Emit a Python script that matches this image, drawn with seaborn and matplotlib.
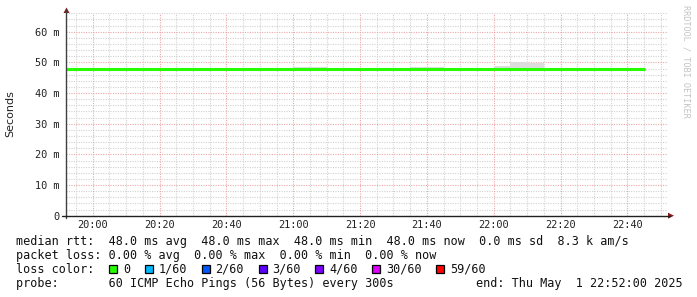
import matplotlib
matplotlib.use("Agg")
import matplotlib.pyplot as plt
import matplotlib.dates as mdates
from matplotlib.patches import Rectangle
import numpy as np
import pandas as pd
import seaborn as sns

# ---------------- data ----------------
times = pd.date_range("2025-05-01 19:50", "2025-05-01 22:45", freq="5min")
median_ms = [48.0, 48.0, 48.0, 48.0, 48.0, 48.0, 48.0, 48.0, 48.0, 48.0,
             48.0, 48.0, 48.0, 48.0, 48.0, 48.0, 48.0, 48.0, 48.0, 48.0,
             48.0, 48.0, 48.0, 48.0, 48.0, 48.0, 48.0, 48.0, 48.0, 48.0,
             48.0, 48.0, 48.0, 48.0, 48.0, 48.0]
smoke_top_ms = [48.0, 48.0, 48.0, 48.0, 48.0, 48.0, 48.0, 48.0, 48.0, 48.0,
                48.0, 48.0, 48.0, 48.0, 48.0, 48.5, 48.5, 48.0, 48.0, 48.0,
                48.0, 48.0, 48.5, 48.5, 48.0, 48.0, 48.0, 48.9, 50.2, 49.8,
                48.0, 48.0, 48.0, 48.0, 48.0, 48.0]
ytick_vals = [0, 10, 20, 30, 40, 50, 60]
ytick_labels = ["0", "10 m", "20 m", "30 m", "40 m", "50 m", "60 m"]
xtick_labels = ["20:00", "20:20", "20:40", "21:00", "21:20", "21:40", "22:00", "22:20", "22:40"]
loss_labels = ["0", "1/60", "2/60", "3/60", "4/60", "30/60", "59/60"]
loss_colors = ["#26ff00", "#00b8ff", "#0059ff", "#5e00ff", "#7e00ff", "#dd00ff", "#ff0000"]
legend_lines = [
    "median rtt:  48.0 ms avg  48.0 ms max  48.0 ms min  48.0 ms now  0.0 ms sd  8.3 k am/s",
    "packet loss: 0.00 % avg  0.00 % max  0.00 % min  0.00 % now",
]
probe_text = "probe:       60 ICMP Echo Pings (56 Bytes) every 300s"
end_text = "end: Thu May  1 22:52:00 2025"

df = pd.DataFrame({"time": times, "median": median_ms, "smoke": smoke_top_ms})

# ---------------- figure ----------------
sns.set_theme(style="white")
plt.rcParams["font.family"] = ["DejaVu Sans Mono", "DejaVu Sans"]

W, H = 697, 297
fig = plt.figure(figsize=(W / 100, H / 100), dpi=100)
fig.patch.set_facecolor("white")

x0, x1 = 66, 667.5
y_zero, y_top = 215.7, 13
ax = fig.add_axes([x0 / W, (H - y_zero) / H, (x1 - x0) / W, (y_zero - y_top) / H])
ax.set_facecolor("white")

t_start = pd.Timestamp("2025-05-01 19:52")
t_end = pd.Timestamp("2025-05-01 22:52")
ax.set_xlim(t_start, t_end)
ax.set_ylim(0, 66.1)

# grid
minor_c = "#d2d2d2"
major_c = "#eda8a8"
dots = (0, (1, 1.2))
for m in np.arange(0, 66.1, 2):
    if m % 10 == 0:
        continue
    ax.axhline(m, color=minor_c, lw=0.8, ls=dots, zorder=0)
for m in range(10, 61, 10):
    ax.axhline(m, color=major_c, lw=0.8, ls=dots, zorder=0.5)
vt = pd.date_range("2025-05-01 19:55", "2025-05-01 22:50", freq="5min")
for t in vt:
    if t.minute % 20 == 0:
        ax.axvline(t, color=major_c, lw=0.8, ls=dots, zorder=0.5)
    else:
        ax.axvline(t, color=minor_c, lw=0.8, ls=dots, zorder=0)

# smoke
ax.fill_between(df["time"], df["median"], df["smoke"], step="pre",
                color="#dcdcdc", lw=0, zorder=1)
# median line
sns.lineplot(data=df, x="time", y="median", ax=ax, color="#26ff00",
             lw=2.2, drawstyle="steps-pre", zorder=2, legend=False)

ax.set_xlabel("")
ax.set_ylabel("")

# ticks
ax.set_yticks(ytick_vals)
ax.set_yticklabels(ytick_labels)
xt = [pd.Timestamp("2025-05-01 " + s) for s in xtick_labels]
ax.set_xticks(xt)
ax.set_xticklabels(xtick_labels)
ax.tick_params(axis="both", length=0, labelsize=7.4, colors="#000000")
ax.tick_params(axis="y", pad=5)
ax.tick_params(axis="x", pad=3)
for lab in ax.get_xticklabels() + ax.get_yticklabels():
    lab.set_color("#222222")

for s in ["top", "right", "left", "bottom"]:
    ax.spines[s].set_visible(False)

# axis lines with arrows (figure pixel coords)
def px(x, y):
    return (x / W, (H - y) / H)

fig.add_artist(plt.Line2D([px(66, 0)[0], px(66, 0)[0]], [px(0, 218)[1], px(0, 10)[1]],
                          color="#404040", lw=1.0))
fig.add_artist(plt.Line2D([px(62, 0)[0], px(670, 0)[0]], [px(0, 215.7)[1], px(0, 215.7)[1]],
                          color="#202020", lw=1.0))
fig.add_artist(plt.Polygon([px(63.5, 13), px(69.5, 13), px(66.5, 7.5)], closed=True,
                           color="#8b1a1a", lw=0))
fig.add_artist(plt.Polygon([px(668, 212.7), px(668, 218.7), px(674, 215.7)], closed=True,
                           color="#8b1a1a", lw=0))

# y label
fig.text(10.5 / W, (H - 114) / H, "Seconds", rotation=90, ha="center", va="center",
         fontsize=8, family="DejaVu Sans", color="#222222")
# watermark
fig.text(686 / W, (H - 5) / H, "RRDTOOL / TOBI OETIKER", rotation=-90, ha="center",
         va="top", fontsize=6.1, color="#c4c4c4")

# legend text
fs = 8.5
cw = 0.602 * fs * 100 / 72
lx = 16.5
line_y = [241.5, 255.3, 269.2, 283.2]
for txt, yy in zip(legend_lines, line_y[:2]):
    fig.text(lx / W, (H - yy) / H, txt, fontsize=fs, va="center", ha="left",
             color="#111111", family="DejaVu Sans Mono")

fig.text(lx / W, (H - line_y[2]) / H, "loss color:", fontsize=fs, va="center", ha="left",
         color="#111111", family="DejaVu Sans Mono")
col = 13
for lab, c in zip(loss_labels, loss_colors):
    sx = lx + col * cw + 0.5
    rx, ry = px(sx, line_y[2] + 4)
    fig.add_artist(Rectangle((rx, ry), 8 / W, 8 / H, facecolor=c, edgecolor="black",
                             lw=0.9))
    fig.text((lx + (col + 2) * cw) / W, (H - line_y[2]) / H, lab, fontsize=fs,
             va="center", ha="left", color="#111111", family="DejaVu Sans Mono")
    col += 2 + len(lab) + 2

fig.text(lx / W, (H - line_y[3]) / H, probe_text, fontsize=fs, va="center", ha="left",
         color="#111111", family="DejaVu Sans Mono")
fig.text(683 / W, (H - line_y[3]) / H, end_text, fontsize=fs, va="center", ha="right",
         color="#111111", family="DejaVu Sans Mono")

fig.savefig("out.png", dpi=100, facecolor="white")
